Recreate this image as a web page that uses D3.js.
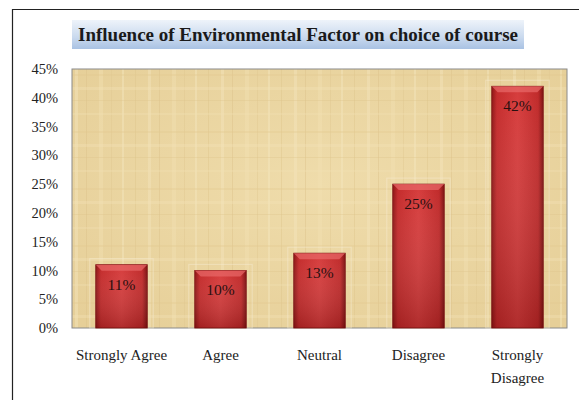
<!DOCTYPE html>
<html>
<head>
<meta charset="utf-8">
<script src="https://cdn.jsdelivr.net/npm/d3@7"></script>
<style>
  body { margin: 0; background: #fff; }
  svg { display: block; font-family: "Liberation Serif", "Times New Roman", serif; }
</style>
</head>
<body>
<div class="chart"></div>
<script>
// data
var categories = ["Strongly Agree", "Agree", "Neutral", "Disagree", "Strongly Disagree"];
var values = [0.11, 0.10, 0.13, 0.25, 0.42];
var valueLabels = ["11%", "10%", "13%", "25%", "42%"];
var yTicks = [0, 0.05, 0.10, 0.15, 0.20, 0.25, 0.30, 0.35, 0.40, 0.45];
var title = "Influence of Environmental Factor on choice of course";

var W = 579, H = 400;
var margin = {top: 69, right: 12, bottom: 72, left: 72};
var width = W - margin.left - margin.right,
    height = H - margin.top - margin.bottom;

var svg = d3.select(".chart").append("svg")
    .attr("width", W)
    .attr("height", H);

var defs = svg.append("defs");

// title box gradient
var tg = defs.append("linearGradient").attr("id", "titleGrad")
    .attr("x1", 0).attr("y1", 0).attr("x2", 0).attr("y2", 1);
tg.append("stop").attr("offset", "0%").attr("stop-color", "#eef3fa");
tg.append("stop").attr("offset", "60%").attr("stop-color", "#c9d9ee");
tg.append("stop").attr("offset", "100%").attr("stop-color", "#a9c2e3");

// bar body: dark edges, lighter middle
var bg = defs.append("linearGradient").attr("id", "barGrad")
    .attr("x1", 0).attr("y1", 0).attr("x2", 1).attr("y2", 0);
bg.append("stop").attr("offset", "0%").attr("stop-color", "#8e1616");
bg.append("stop").attr("offset", "10%").attr("stop-color", "#c42b2b");
bg.append("stop").attr("offset", "50%").attr("stop-color", "#d63c3c");
bg.append("stop").attr("offset", "90%").attr("stop-color", "#c02a2a");
bg.append("stop").attr("offset", "100%").attr("stop-color", "#7e1212");

var vg = defs.append("linearGradient").attr("id", "barShade")
    .attr("x1", 0).attr("y1", 0).attr("x2", 0).attr("y2", 1);
vg.append("stop").attr("offset", "0%").attr("stop-color", "#ffffff").attr("stop-opacity", 0.0);
vg.append("stop").attr("offset", "100%").attr("stop-color", "#400000").attr("stop-opacity", 0.25);

// papyrus-like texture, two patterns with different periods so it looks less regular
var pat = defs.append("pattern").attr("id", "papyrus")
    .attr("patternUnits", "userSpaceOnUse")
    .attr("width", 73).attr("height", 400);
[[3, 3, "#f4e5bd"], [14, 1, "#dcc28a"], [27, 4, "#f2e0b2"], [39, 1, "#e0c890"], [50, 2, "#f5e6c0"], [63, 1, "#dec58b"]].forEach(function(s) {
  pat.append("rect").attr("x", s[0]).attr("y", 0).attr("width", s[1]).attr("height", 400)
     .attr("fill", s[2]).attr("opacity", 0.45);
});
var pat2 = defs.append("pattern").attr("id", "papyrus2")
    .attr("patternUnits", "userSpaceOnUse")
    .attr("width", 600).attr("height", 57);
[[5, 2, "#e1c98f"], [18, 3, "#f3e3b8"], [31, 1, "#dbc188"], [44, 2, "#f1dfb1"]].forEach(function(s) {
  pat2.append("rect").attr("x", 0).attr("y", s[0]).attr("width", 600).attr("height", s[1])
     .attr("fill", s[2]).attr("opacity", 0.35);
});

var bgGrad = defs.append("radialGradient").attr("id", "paperTone")
    .attr("cx", "50%").attr("cy", "45%").attr("r", "70%");
bgGrad.append("stop").attr("offset", "0%").attr("stop-color", "#efdcab");
bgGrad.append("stop").attr("offset", "100%").attr("stop-color", "#e6cf98");

// outer frame (left + top only visible)
svg.append("path")
   .attr("d", "M12.5,400 V9.5 H579")
   .attr("fill", "none")
   .attr("stroke", "#222")
   .attr("stroke-width", 1.2);

// title
svg.append("rect")
   .attr("x", 72).attr("y", 20)
   .attr("width", 452).attr("height", 29)
   .attr("fill", "url(#titleGrad)");
svg.append("text")
   .attr("x", 298).attr("y", 41)
   .attr("text-anchor", "middle")
   .attr("font-weight", "bold")
   .attr("font-size", 19)
   .attr("fill", "#1a1a1a")
   .text(title);

var g = svg.append("g")
    .attr("transform", "translate(" + margin.left + "," + margin.top + ")");

var x = d3.scaleBand()
    .domain(categories)
    .range([0, width])
    .paddingInner(0.48)
    .paddingOuter(0.24);

var y = d3.scaleLinear()
    .domain([0, 0.45])
    .range([height, 0]);

// plot area
g.append("rect")
  .attr("width", width).attr("height", height)
  .attr("fill", "url(#paperTone)");
g.append("rect")
  .attr("width", width).attr("height", height)
  .attr("fill", "url(#papyrus)");
g.append("rect")
  .attr("width", width).attr("height", height)
  .attr("fill", "url(#papyrus2)")
  .attr("stroke", "#8a8a8a")
  .attr("stroke-width", 1);

// y axis
var yAxis = g.append("g")
    .call(d3.axisLeft(y).tickValues(yTicks).tickFormat(d3.format(".0%")).tickSize(0).tickPadding(14));
yAxis.select(".domain").remove();
yAxis.selectAll("text")
    .attr("font-family", "Liberation Serif, Times New Roman, serif")
    .attr("font-size", 14.5)
    .attr("fill", "#222");

// faint glow behind bars
g.selectAll(".glow")
  .data(values)
  .enter().append("rect")
  .attr("x", function(d, i) { return x(categories[i]) - 6; })
  .attr("y", function(d) { return y(d) - 6; })
  .attr("width", x.bandwidth() + 12)
  .attr("height", function(d) { return height - y(d) + 6; })
  .attr("fill", "none")
  .attr("stroke", "#f7ecd0")
  .attr("stroke-width", 1.2)
  .attr("opacity", 0.45);

var bars = g.selectAll(".bar")
  .data(values)
  .enter().append("g")
  .attr("class", "bar");

bars.append("rect")
  .attr("x", function(d, i) { return x(categories[i]); })
  .attr("y", function(d) { return y(d); })
  .attr("width", x.bandwidth())
  .attr("height", function(d) { return height - y(d); })
  .attr("fill", "url(#barGrad)")
  .attr("stroke", "#7a1010")
  .attr("stroke-width", 0.8);

bars.append("rect")
  .attr("x", function(d, i) { return x(categories[i]); })
  .attr("y", function(d) { return y(d); })
  .attr("width", x.bandwidth())
  .attr("height", function(d) { return height - y(d); })
  .attr("fill", "url(#barShade)");

// top bevel highlight
bars.append("path")
  .attr("d", function(d, i) {
    var x0 = x(categories[i]), x1 = x0 + x.bandwidth(), y0 = y(d);
    return "M" + x0 + "," + y0 + " H" + x1 + " L" + (x1 - 6) + "," + (y0 + 6) + " H" + (x0 + 6) + " Z";
  })
  .attr("fill", "#e86a6a")
  .attr("opacity", 0.7);

bars.append("text")
  .attr("x", function(d, i) { return x(categories[i]) + x.bandwidth() / 2; })
  .attr("y", function(d) { return y(d) + 25; })
  .attr("text-anchor", "middle")
  .attr("font-size", 15.5)
  .attr("fill", "#2a1010")
  .text(function(d, i) { return valueLabels[i]; });

// x labels
var xLab = g.append("g").attr("transform", "translate(0," + height + ")");
categories.forEach(function(c, i) {
  var cx = x(c) + x.bandwidth() / 2;
  var lines = (c === "Strongly Disagree") ? ["Strongly", "Disagree"] : [c];
  lines.forEach(function(l, j) {
    xLab.append("text")
      .attr("x", cx)
      .attr("y", 32 + j * 23)
      .attr("text-anchor", "middle")
      .attr("font-size", 15)
      .attr("fill", "#222")
      .text(l);
  });
});
</script>
</body>
</html>
